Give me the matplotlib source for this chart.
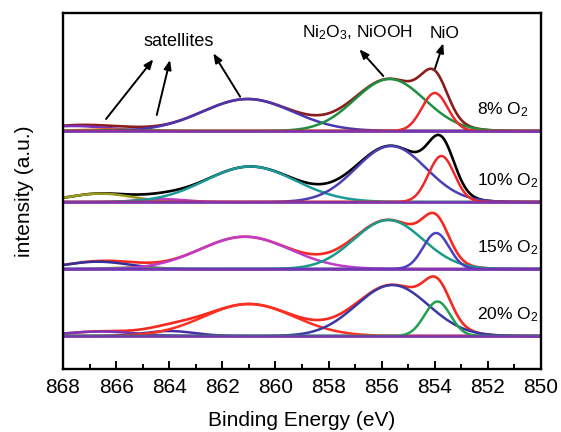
import matplotlib
matplotlib.use('Agg')
import matplotlib.pyplot as plt
import numpy as np

plt.rcParams['font.family'] = ['Liberation Sans', 'DejaVu Sans']
plt.rcParams['mathtext.fontset'] = 'custom'
plt.rcParams['mathtext.rm'] = 'Liberation Sans'
plt.rcParams['mathtext.it'] = 'Liberation Sans:italic'

# sample names (top to bottom)
labels = ['8% O$_2$', '10% O$_2$', '15% O$_2$', '20% O$_2$']

# fitted peak components: position (eV), height (a.u.), fwhm (eV)
# order: small satellites, main satellite, Ni2O3/NiOOH, NiO
pos_8 = [867.6, 866.5, 865.5, 861.05, 855.7, 854.0]
amp_8 = [5.0, 1.5, 1.0, 32.0, 52.0, 38.0]
fwhm_8 = [3.0, 2.5, 2.0, 4.0, 3.1, 1.15]

pos_10 = [866.6, 864.3, 860.95, 855.65, 853.75]
amp_10 = [8.4, 3.0, 35.5, 56.0, 46.0]
fwhm_10 = [2.8, 2.0, 4.0, 3.1, 1.15]

pos_15 = [866.7, 865.5, 861.15, 855.75, 853.95]
amp_15 = [7.3, 1.5, 32.3, 49.0, 36.0]
fwhm_15 = [2.8, 2.0, 4.0, 3.05, 1.15]

pos_20 = [866.6, 864.0, 861.0, 855.6, 853.9]
amp_20 = [4.5, 5.0, 32.0, 51.0, 34.5]
fwhm_20 = [3.0, 2.2, 4.0, 3.2, 1.15]

# line colours
col_8 = ['#7b30b8', '#ff6a10', '#1f9a40', '#4a36b0', '#1f9040', '#f02828']
col_10 = ['#9a9a20', '#c03cc0', '#1a9a98', '#4a40b4', '#f02828']
col_15 = ['#34309a', '#9a9a20', '#c03cc8', '#1a9a8a', '#4a40c0']
col_20 = ['#7a34b8', '#4a2ea8', '#ff3020', '#3a38a4', '#20a050']
env_col = ['#8b1c1c', 'black', '#f42a20', '#f42a20']

offsets = [238, 167, 100, 33]
base_col = '#7a34b4'

pos_all = [pos_8, pos_10, pos_15, pos_20]
amp_all = [amp_8, amp_10, amp_15, amp_20]
fwhm_all = [fwhm_8, fwhm_10, fwhm_15, fwhm_20]
col_all = [col_8, col_10, col_15, col_20]

be = np.linspace(868, 850, 901)


def gauss(x, c, a, w):
    s = w / 2.3548
    return a * np.exp(-(x - c) ** 2 / (2 * s ** 2))


fig = plt.figure(figsize=(5.61, 4.32), dpi=100)
ax = fig.add_axes([0.1123, 0.1458, 0.8521, 0.8241])

for k in range(4):
    off = offsets[k]
    total = np.zeros_like(be)
    for c, a, w, col in zip(pos_all[k], amp_all[k], fwhm_all[k], col_all[k]):
        y = gauss(be, c, a, w)
        total += y
        ax.plot(be, y + off, color=col, lw=1.8, zorder=3)
    ax.axhline(off, color=base_col, lw=1.8, zorder=4)
    # envelope underneath the components
    ax.plot(be, total + off, color=env_col[k], lw=1.9, zorder=2)
    ax.text(852.42, off + 17, labels[k], fontsize=12.5, ha='left', va='baseline')

# annotations
arr = dict(arrowstyle='-|>,head_length=0.55,head_width=0.22', color='black', lw=1.4,
           shrinkA=0, shrinkB=0)
ax.text(863.63, 328, 'satellites', fontsize=13, ha='center', va='center')
ax.annotate('', xy=(864.60, 309.7), xytext=(866.38, 250), arrowprops=arr)
ax.annotate('', xy=(863.97, 309), xytext=(864.47, 254), arrowprops=arr)
ax.annotate('', xy=(862.34, 315.7), xytext=(861.33, 272.3), arrowprops=arr)
ax.text(856.93, 336, 'Ni$_2$O$_3$, NiOOH', fontsize=12.5, ha='center', va='center')
ax.text(853.62, 336, 'NiO', fontsize=12.5, ha='center', va='center')
ax.annotate('', xy=(856.84, 319.7), xytext=(855.94, 293), arrowprops=arr)
ax.annotate('', xy=(853.68, 325.7), xytext=(853.99, 300.7), arrowprops=arr)

ax.set_xlim(868, 850)
ax.set_ylim(0, 356)
ax.set_xticks(np.arange(868, 849, -2))
ax.set_xticks(np.arange(867, 850, -2), minor=True)
ax.tick_params(axis='x', which='major', direction='in', length=5.8, width=1.4,
               labelsize=15, pad=6.5)
ax.tick_params(axis='x', which='minor', direction='in', length=3.3, width=1.4)
ax.set_yticks([])
for sp in ax.spines.values():
    sp.set_linewidth(1.7)
    sp.set_zorder(5)

fig.text(302 / 561, 1 - 420 / 432, 'Binding Energy (eV)', fontsize=15,
         ha='center', va='center')
fig.text(25 / 561, 1 - 191 / 432, 'intensity (a.u.)', fontsize=15, rotation=90,
         ha='center', va='center')

plt.savefig('out.png', dpi=100)
